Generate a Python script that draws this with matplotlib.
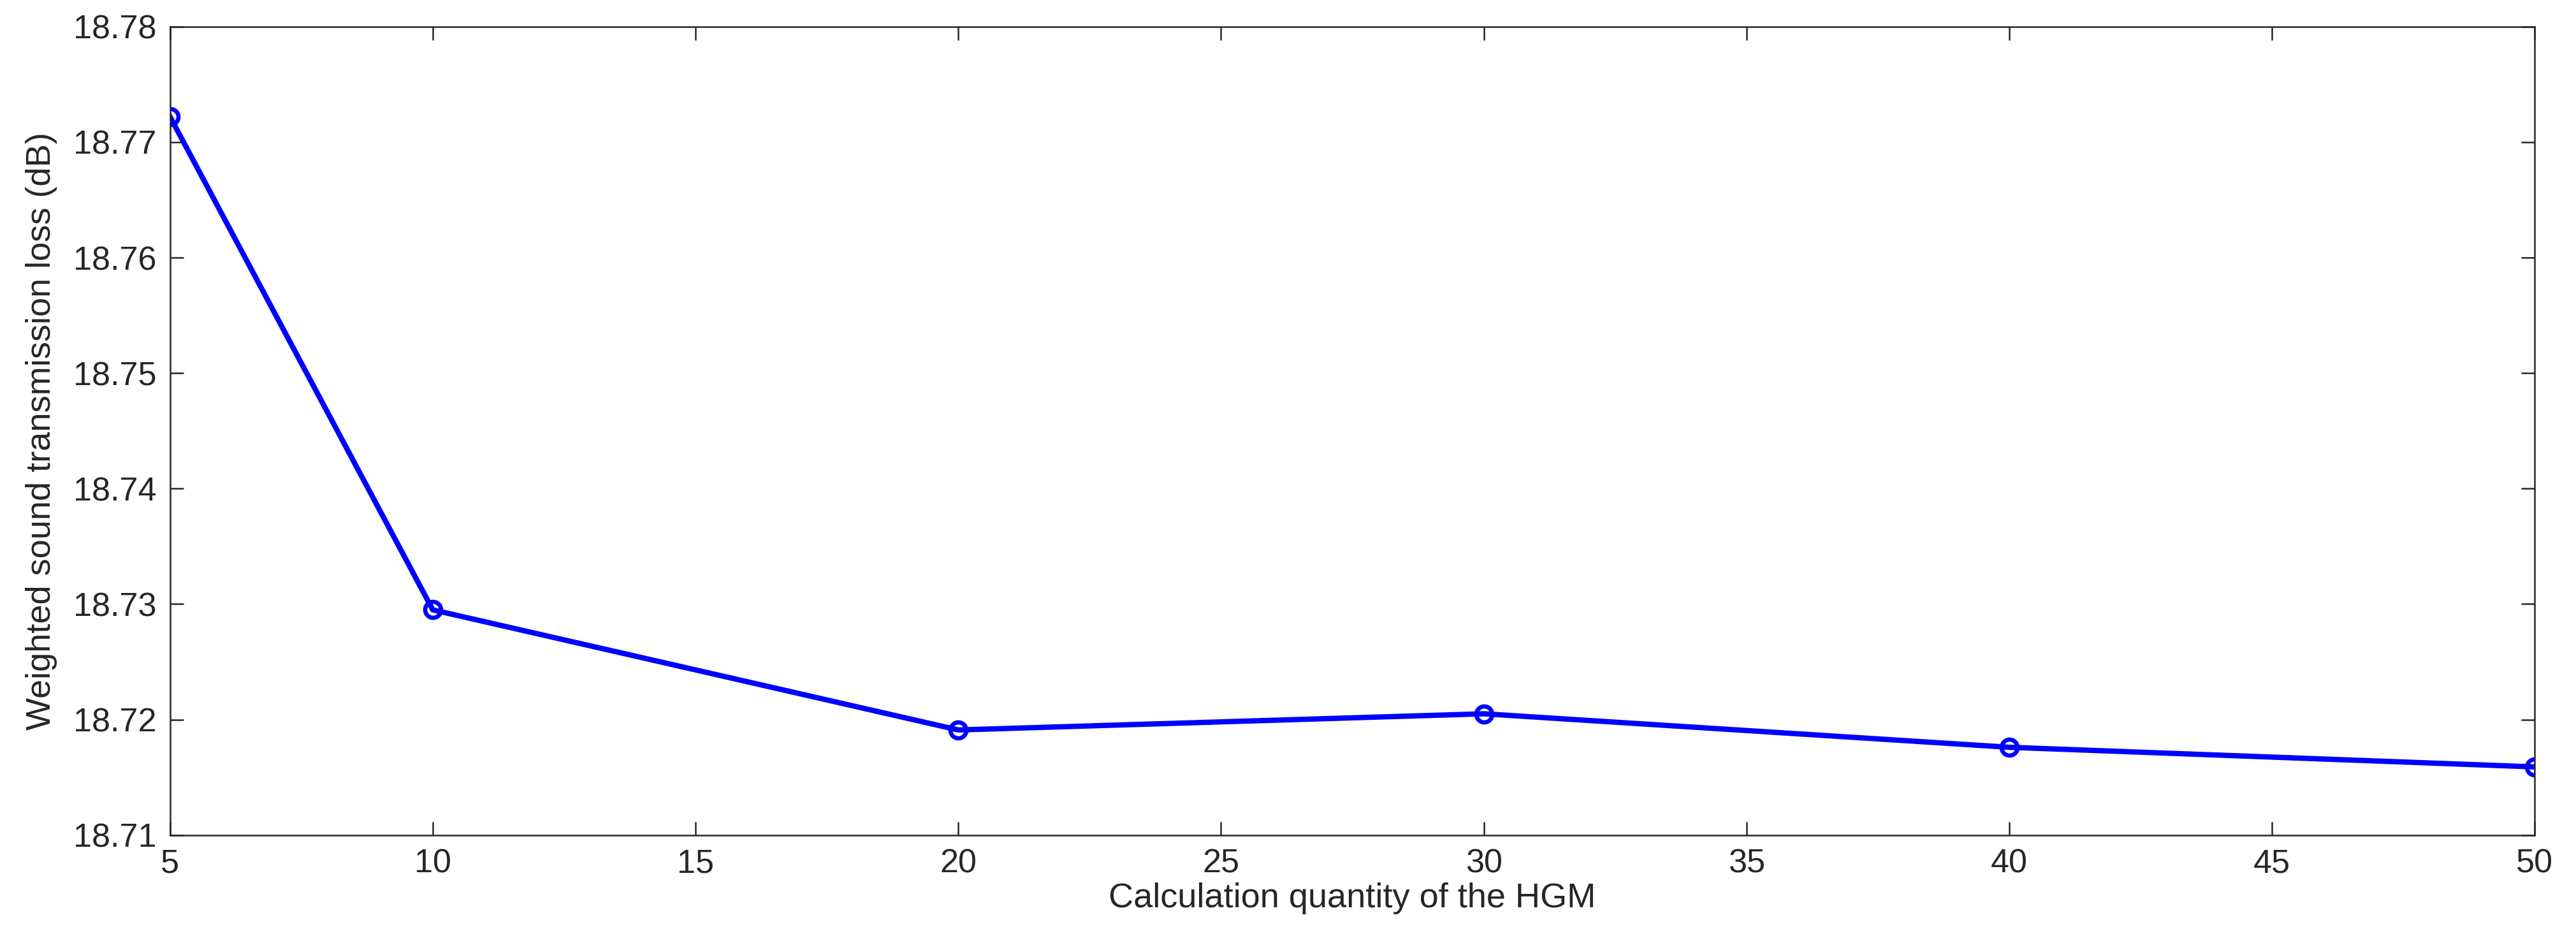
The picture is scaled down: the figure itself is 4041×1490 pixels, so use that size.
import matplotlib
matplotlib.use("Agg")
import matplotlib.pyplot as plt

x = [5, 10, 20, 30, 40, 50]
y = [18.7722, 18.7295, 18.7191, 18.7205, 18.7176, 18.7159]
xticks = [5, 10, 15, 20, 25, 30, 35, 40, 45, 50]
yticks = [18.71, 18.72, 18.73, 18.74, 18.75, 18.76, 18.77, 18.78]

plt.rcParams['font.family'] = ['Liberation Sans', 'DejaVu Sans']
fig = plt.figure(figsize=(4041/300, 1490/300), dpi=300)
ax = fig.add_axes([0.066, 0.121, 0.918, 0.851])
ax.plot(x, y, color='#0000ff', lw=2.0, marker='o', ms=6, mfc='none', mew=1.6)
ax.set_xlim(5, 50)
ax.set_ylim(18.71, 18.78)
ax.set_xticks(xticks)
ax.set_yticks(yticks)
ax.set_yticklabels([f"{v:.2f}" for v in yticks])
ax.tick_params(direction='in', top=True, right=True, labelsize=12.5, length=5,
               width=0.6, pad=5, labelcolor='#262626', color='#262626')
for s in ax.spines.values():
    s.set_linewidth(0.6)
    s.set_color('#262626')
ax.set_xlabel("Calculation quantity of the HGM", fontsize=13, labelpad=1, color='#262626')
ax.set_ylabel("Weighted sound transmission loss (dB)", fontsize=13, labelpad=6, color='#262626')
fig.savefig("out.png", dpi=300)
